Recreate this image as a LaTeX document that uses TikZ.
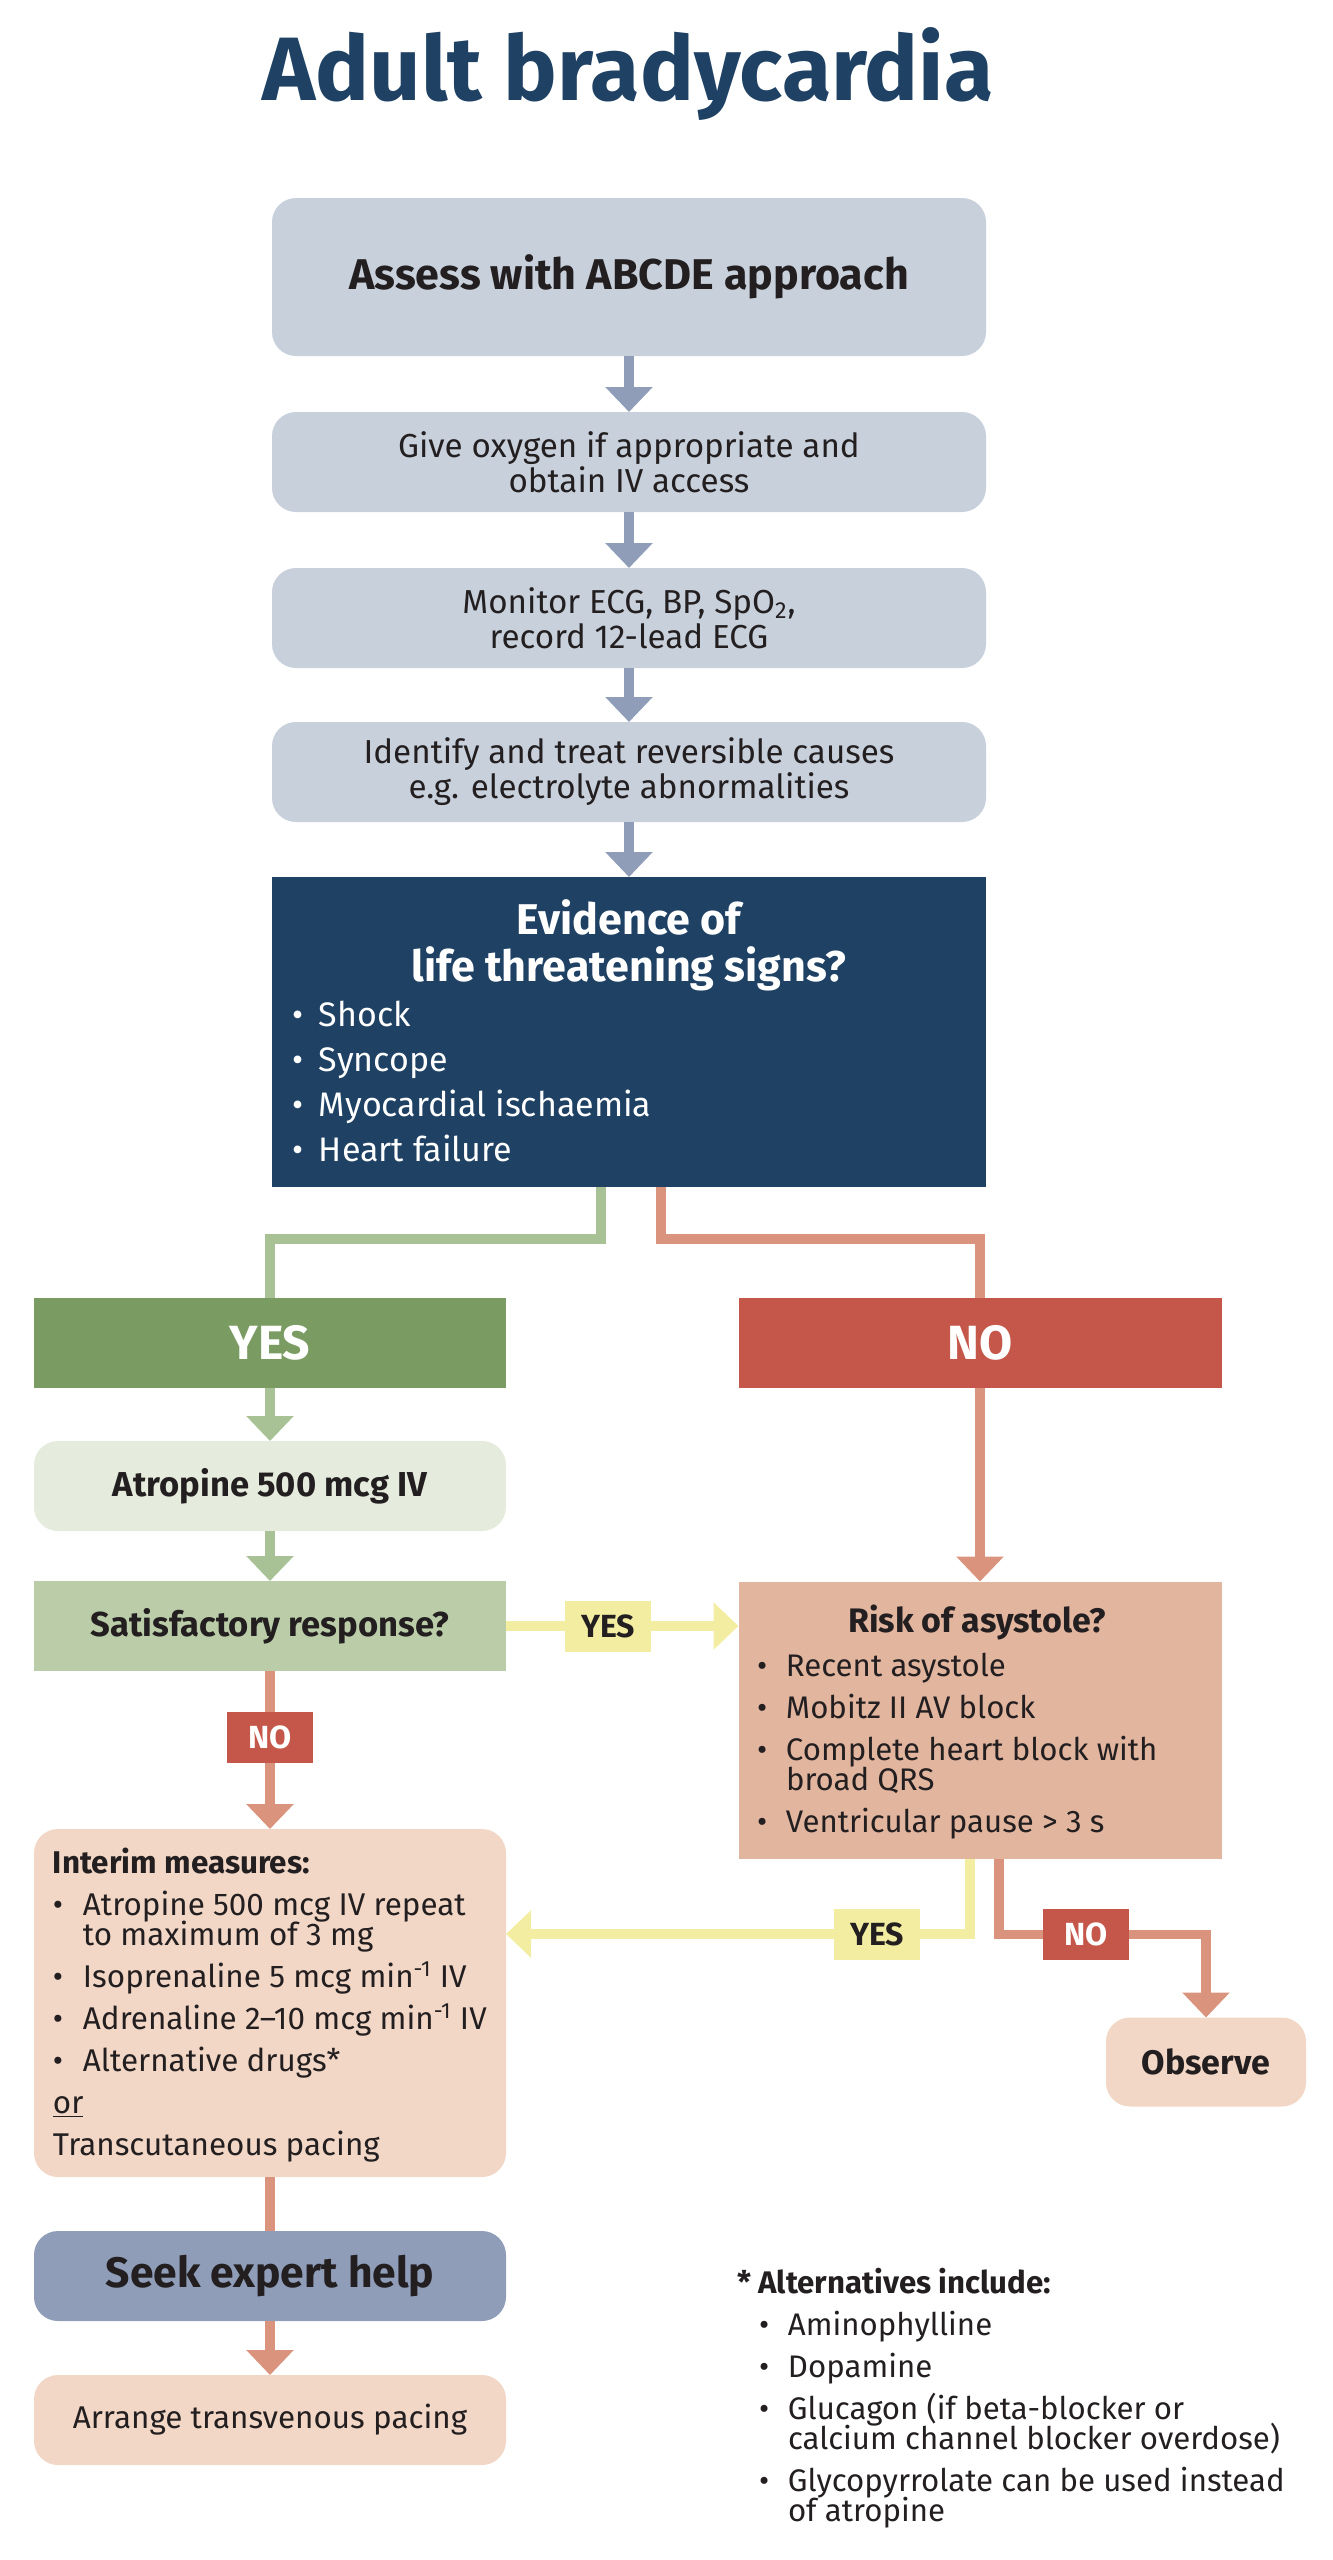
\documentclass[tikz,border=0pt]{standalone}
\usepackage{fontspec}
\setmainfont{Fira Sans}
\usetikzlibrary{positioning, arrows.meta}

\definecolor{ink}{HTML}{231F20}
\definecolor{navy}{HTML}{1E4164}
\definecolor{cgrey}{HTML}{C8D0DB}
\definecolor{greyarrow}{HTML}{8F9DB9}
\definecolor{yesgreen}{HTML}{7A9B61}
\definecolor{greenline}{HTML}{A9C295}
\definecolor{atrofill}{HTML}{E5EBDD}
\definecolor{satisfill}{HTML}{BACDA8}
\definecolor{nored}{HTML}{C5574A}
\definecolor{redarrow}{HTML}{DA937D}
\definecolor{riskfill}{HTML}{E2B59F}
\definecolor{peach}{HTML}{F2D7C6}
\definecolor{yellowline}{HTML}{F3EDA2}
\definecolor{seekfill}{HTML}{8F9DB9}

\newcommand{\fs}[2]{\fontsize{#1}{#2}\selectfont}
\newcommand{\bul}[1]{\makebox[#1][l]{\textbullet}}

\begin{document}
\begin{tikzpicture}[x=0.5pt, y=-0.5pt,
	every node/.style={inner sep=0pt, outer sep=0pt, text=ink},
	greybox/.style={fill=cgrey, rounded corners=12pt, minimum width=357pt, align=center},
	leftbox/.style={minimum width=236pt, minimum height=45pt, align=center},
	labbox/.style={minimum width=43pt, minimum height=25.5pt, font=\bfseries\fs{16}{18}},
	yeslab/.style={labbox, fill=yellowline},
	nolab/.style={labbox, fill=nored, text=white},
	line/.style={line width=4.75pt},
	flow/.style={line, -{Triangle[width=23pt,length=12.5pt]}},
	greyflow/.style={flow, greyarrow},
	greenflow/.style={flow, greenline},
	redflow/.style={flow, redarrow},
	yellowflow/.style={flow, yellowline}]
	\useasboundingbox (0,0) rectangle (1333,2560);
	
	% Title
	\node[anchor=base, text=navy, font=\bfseries\fs{45}{50}] (title) at (628,100) {Adult bradycardia};
	
	% First steps
	\node[greybox, minimum height=79pt, font=\bfseries\fs{21.5}{24}] (assess) at (629,277) {Assess with ABCDE approach};
	\node[greybox, minimum height=50pt, font=\fs{16.6}{17.5}] (oxygen) at (629,462) {Give oxygen if appropriate and\\obtain IV access};
	\node[greybox, minimum height=50pt, font=\fs{16.6}{17.5}] (monitor) at (629,618) {Monitor ECG, BP, SpO\textsubscript{2},\\record 12-lead ECG};
	\node[greybox, minimum height=50pt, font=\fs{16.6}{17.5}] (causes) at (629,772) {Identify and treat reversible causes\\e.g. electrolyte abnormalities};
	
	% Life threatening signs
	\node[fill=navy, minimum width=357pt, minimum height=155pt] (signs) at (629,1032) {};
	\node[text=white, align=center, font=\bfseries\fs{21.5}{23.5}] (signsq) at (629,945) {Evidence of\\life threatening signs?};
	\node[anchor=base west, text=white, font=\fs{17}{22.5}] (signslist) at (292,1026) {%
		\begin{tabular}[t]{@{}l@{}}
			\bul{13.5pt}Shock\\
			\bul{13.5pt}Syncope\\
			\bul{13.5pt}Myocardial ischaemia\\
			\bul{13.5pt}Heart failure
		\end{tabular}};
	
	% Branches
	\node[leftbox, fill=yesgreen, text=white, font=\bfseries\fs{24}{28}] (yes) at (270,1343) {YES};
	\node[minimum width=241.5pt, minimum height=45pt, fill=nored, text=white, font=\bfseries\fs{24}{28}] (no) at (980,1343) {NO};
	
	\node[leftbox, fill=atrofill, rounded corners=12pt, font=\bfseries\fs{17.3}{20}] (atro) at (270,1486) {Atropine 500 mcg IV};
	\node[leftbox, fill=satisfill, font=\bfseries\fs{17.3}{20}] (satis) at (270,1626) {Satisfactory response?};
	
	% Risk of asystole
	\node[fill=riskfill, minimum width=241.5pt, minimum height=138.5pt] (risk) at (980,1720) {};
	\node[font=\bfseries\fs{17}{20}] (risktitle) at (977,1622) {Risk of asystole?};
	\node[anchor=base west, font=\fs{15.6}{21}] (risklist) at (757,1676) {%
		\begin{tabular}[t]{@{}l@{}}
			\bul{14.5pt}Recent asystole\\
			\bul{14.5pt}Mobitz II AV block\\
			\bul{14.5pt}Complete heart block with\\[-6pt]
			\hspace{14.5pt}broad QRS\\
			\bul{14.5pt}Ventricular pause > 3 s
		\end{tabular}};
	
	% Interim measures
	\node[fill=peach, rounded corners=12pt, minimum width=236pt, minimum height=174pt] (interim) at (270,2003) {};
	\node[anchor=base west, font=\fs{15.7}{21}] (interimlist) at (53,1873) {%
		\begin{tabular}[t]{@{}l@{}}
			{\bfseries Interim measures:}\\
			\bul{15pt}Atropine 500 mcg IV repeat\\[-6pt]
			\hspace{15pt}to maximum of 3 mg\\
			\bul{15pt}Isoprenaline 5 mcg min\textsuperscript{-1} IV\\
			\bul{15pt}Adrenaline 2--10 mcg min\textsuperscript{-1} IV\\
			\bul{15pt}Alternative drugs*\\
			\underline{or}\\
			Transcutaneous pacing
		\end{tabular}};
	
	\node[fill=peach, rounded corners=12pt, minimum width=100pt, minimum height=44.5pt, font=\bfseries\fs{17}{20}] (observe) at (1206,2062) {Observe};
	\node[leftbox, fill=seekfill, rounded corners=12pt, font=\bfseries\fs{21.3}{24}] (seek) at (270,2276) {Seek expert help};
	\node[leftbox, fill=peach, rounded corners=12pt, font=\fs{15.7}{19}] (arrange) at (270,2420) {Arrange transvenous pacing};
	
	% Alternatives
	\node[anchor=base west, font=\fs{15.6}{21}] (altlist) at (737,2293) {%
		\begin{tabular}[t]{@{}l@{}}
			{\bfseries * Alternatives include:}\\
			\hspace{11pt}\bul{14.5pt}Aminophylline\\
			\hspace{11pt}\bul{14.5pt}Dopamine\\
			\hspace{11pt}\bul{14.5pt}Glucagon (if beta-blocker or\\[-6pt]
			\hspace{25.5pt}calcium channel blocker overdose)\\
			\hspace{11pt}\bul{14.5pt}Glycopyrrolate can be used instead\\[-6pt]
			\hspace{25.5pt}of atropine
		\end{tabular}};
	
	% Connectors
	\draw[greyflow] (assess.south) -- (oxygen.north);
	\draw[greyflow] (oxygen.south) -- (monitor.north);
	\draw[greyflow] (monitor.south) -- (causes.north);
	\draw[greyflow] (causes.south) -- (signs.north);
	
	\draw[line, greenline] ([xshift=-14pt]signs.south) -- ++(0,52) -| (yes.north);
	\draw[line, redarrow] ([xshift=16pt]signs.south) -- ++(0,52) -| (no.north);
	
	\draw[greenflow] (yes.south) -- (atro.north);
	\draw[greenflow] (atro.south) -- (satis.north);
	\draw[redflow] (no.south) -- (risk.north);
	
	\draw[yellowflow] (satis.east) -- (satis.east -| risk.west) node[pos=0.44, yeslab] (yes1) {YES};
	\draw[redflow] (satis.south) -- (interim.north) node[pos=0.42, nolab] (no1) {NO};
	
	\draw[yellowflow] ([xshift=-5pt]risk.south) |- ([yshift=34.5pt]interim.east) node[pos=0.6, yeslab] (yes2) {YES};
	\draw[redflow] ([xshift=9.5pt]risk.south) -- ++(0,76) -| (observe.north) node[pos=0.21, nolab] (no2) {NO};
	
	\draw[line, redarrow] (interim.south) -- (seek.north);
	\draw[redflow] (seek.south) -- (arrange.north);
\end{tikzpicture}
\end{document}
